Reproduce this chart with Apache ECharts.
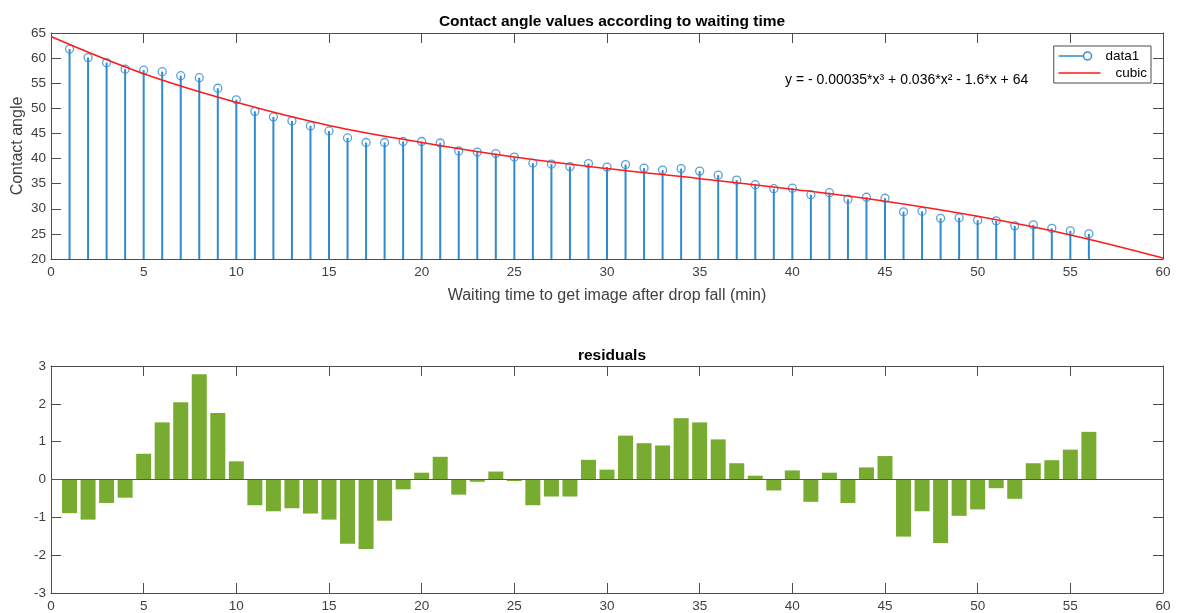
<!DOCTYPE html>
<html>
<head>
<meta charset="utf-8">
<title>Contact angle values according to waiting time</title>
<script src="https://cdn.jsdelivr.net/npm/echarts@6/dist/echarts.min.js"></script>
<style>
  html, body { margin: 0; padding: 0; background: #fff; }
  #chart { width: 1180px; height: 613px; }
</style>
</head>
<body>
<div id="chart"></div>
<script>
// waiting time (min)
const times = [1, 2, 3, 4, 5, 6, 7, 8, 9, 10, 11, 12, 13, 14, 15, 16, 17, 18, 19, 20,
  21, 22, 23, 24, 25, 26, 27, 28, 29, 30, 31, 32, 33, 34, 35, 36, 37, 38, 39, 40,
  41, 42, 43, 44, 45, 46, 47, 48, 49, 50, 51, 52, 53, 54, 55, 56];

// measured contact angle
const angles = [61.8, 60.1, 59.1, 57.8, 57.6, 57.3, 56.5, 56.1, 54.0, 51.7,
  49.4, 48.3, 47.5, 46.5, 45.5, 44.1, 43.2, 43.2, 43.4, 43.4,
  43.1, 41.5, 41.3, 41.0, 40.3, 39.1, 38.9, 38.4, 39.0, 38.3,
  38.8, 38.1, 37.7, 38.0, 37.5, 36.7, 35.7, 34.8, 34.0, 34.1,
  32.8, 33.2, 31.9, 32.3, 32.1, 29.4, 29.5, 28.1, 28.2, 27.7,
  27.6, 26.6, 26.8, 26.1, 25.6, 25.0];

// cubic fit
const fitX = [0, 5, 10, 15, 20, 25, 30, 35, 40, 45, 50, 55, 60];
const fitY = [64.3, 56.9, 51.2, 46.6, 43.2, 40.3, 38.0, 36.0, 33.9, 31.5, 28.5, 24.8, 20.2];

// residuals of the fit
const residuals = [-0.89, -1.06, -0.62, -0.48, 0.68, 1.51, 2.04, 2.78, 1.76, 0.48,
  -0.68, -0.84, -0.76, -0.90, -1.06, -1.70, -1.84, -1.09, -0.26, 0.18,
  0.60, -0.40, -0.06, 0.21, -0.04, -0.68, -0.45, -0.45, 0.52, 0.26,
  1.16, 0.96, 0.90, 1.62, 1.51, 1.06, 0.43, 0.10, -0.29, 0.24,
  -0.59, 0.18, -0.62, 0.32, 0.62, -1.51, -0.84, -1.68, -0.96, -0.79,
  -0.23, -0.51, 0.43, 0.51, 0.79, 1.26];

const font = 'Liberation Sans, Arial, Helvetica, sans-serif';
const ink = '#404040';
const boxColor = '#4d4d4d';
const blue = '#2f8bd0';
const red = '#ff1a1a';

const pairs = (xs, ys) => xs.map((x, i) => [x, ys[i]]);

// box axes: labelled one plus a mirrored one with ticks only
const xAxis = (grid, position, labels, extra) => Object.assign({
  type: 'value',
  gridIndex: grid,
  position: position,
  min: 0,
  max: 60,
  interval: 5,
  axisLine: { show: true, onZero: false, lineStyle: { color: boxColor, width: 1 } },
  axisTick: { show: true, inside: true, length: 10, lineStyle: { color: boxColor } },
  axisLabel: { show: labels, color: ink, fontSize: 13.5, fontFamily: font, margin: 6 },
  splitLine: { show: false }
}, extra || {});

const yAxis = (grid, position, labels, min, max, interval, extra) => Object.assign({
  type: 'value',
  gridIndex: grid,
  position: position,
  min: min,
  max: max,
  interval: interval,
  axisLine: { show: true, onZero: false, lineStyle: { color: boxColor, width: 1 } },
  axisTick: { show: true, inside: true, length: 10, lineStyle: { color: boxColor } },
  axisLabel: { show: labels, color: ink, fontSize: 13.5, fontFamily: font, margin: 5 },
  splitLine: { show: false }
}, extra || {});

const chart = echarts.init(document.getElementById('chart'), null, { renderer: 'canvas' });

chart.setOption({
  backgroundColor: '#fff',
  animation: false,
  textStyle: { fontFamily: font },
  title: [
    {
      text: 'Contact angle values according to waiting time',
      left: 607, top: 9, textAlign: 'center',
      textStyle: { fontSize: 15.5, fontWeight: 'bold', color: '#000', fontFamily: font }
    },
    {
      text: 'residuals',
      left: 607, top: 343, textAlign: 'center',
      textStyle: { fontSize: 15.5, fontWeight: 'bold', color: '#000', fontFamily: font }
    }
  ],
  grid: [
    { left: 51, right: 17, top: 33, height: 226, containLabel: false, outerBoundsMode: 'none' },
    { left: 51, right: 17, top: 366, height: 227, containLabel: false, outerBoundsMode: 'none' }
  ],
  xAxis: [
    xAxis(0, 'bottom', true, {
      name: 'Waiting time to get image after drop fall (min)',
      nameLocation: 'middle',
      nameGap: 29,
      nameMoveOverlap: false,
      nameTextStyle: { color: ink, fontSize: 16, fontFamily: font }
    }),
    xAxis(0, 'top', false),
    xAxis(1, 'bottom', true),
    xAxis(1, 'top', false)
  ],
  yAxis: [
    yAxis(0, 'left', true, 20, 65, 5, {
      name: 'Contact angle',
      nameLocation: 'middle',
      nameGap: 25,
      nameMoveOverlap: false,
      nameTextStyle: { color: ink, fontSize: 16, fontFamily: font }
    }),
    yAxis(0, 'right', false, 20, 65, 5),
    yAxis(1, 'left', true, -3, 3, 1),
    yAxis(1, 'right', false, -3, 3, 1)
  ],
  legend: {
    orient: 'vertical',
    right: 29,
    top: 46,
    padding: [3, 4, 3, 4],
    itemGap: 3,
    itemWidth: 42,
    itemHeight: 9,
    borderColor: boxColor,
    borderWidth: 1,
    borderRadius: 0,
    backgroundColor: '#fff',
    textStyle: { color: '#000', fontSize: 13.5, fontFamily: font },
    data: [
      {
        name: 'data1',
        icon: 'path://M0,4.5 L25,4.5 M33,4.5 A4,4 0 1,1 25,4.5 A4,4 0 1,1 33,4.5 M42,0.5 L42,0.5 M42,8.5 L42,8.5',
        itemStyle: { color: 'rgba(0,0,0,0)', borderColor: blue, borderWidth: 1.5 }
      },
      {
        name: 'cubic',
        icon: 'path://M0,4.5 L42,4.5 M42,0.5 L42,0.5 M42,8.5 L42,8.5',
        itemStyle: { color: 'rgba(0,0,0,0)', borderColor: red, borderWidth: 1.5 },
        textStyle: { padding: [0, 0, 0, 10] }
      }
    ]
  },
  graphic: [
    {
      type: 'text',
      left: 785,
      top: 73,
      style: {
        text: 'y = - 0.00035*x³ + 0.036*x² - 1.6*x + 64',
        fontSize: 14,
        fontFamily: font,
        fill: '#000'
      }
    }
  ],
  series: [
    {
      name: 'data1',
      type: 'bar',
      xAxisIndex: 0,
      yAxisIndex: 0,
      barWidth: 2,
      itemStyle: { color: blue },
      data: pairs(times, angles),
      z: 2
    },
    {
      name: 'data1',
      type: 'scatter',
      xAxisIndex: 0,
      yAxisIndex: 0,
      symbol: 'circle',
      symbolSize: 8,
      itemStyle: { color: 'rgba(0,0,0,0)', borderColor: blue, borderWidth: 1.3 },
      data: pairs(times, angles),
      z: 3
    },
    {
      name: 'cubic',
      type: 'line',
      xAxisIndex: 0,
      yAxisIndex: 0,
      smooth: 0.4,
      symbol: 'none',
      lineStyle: { color: red, width: 1.5 },
      itemStyle: { color: red },
      data: pairs(fitX, fitY),
      z: 4
    },
    {
      name: 'residuals',
      type: 'bar',
      xAxisIndex: 2,
      yAxisIndex: 2,
      barWidth: 15,
      itemStyle: { color: '#77AC30' },
      data: pairs(times, residuals),
      markLine: {
        silent: true,
        symbol: 'none',
        label: { show: false },
        lineStyle: { color: '#555', width: 1, type: 'solid' },
        data: [{ yAxis: 0 }]
      }
    }
  ]
});
</script>
</body>
</html>
